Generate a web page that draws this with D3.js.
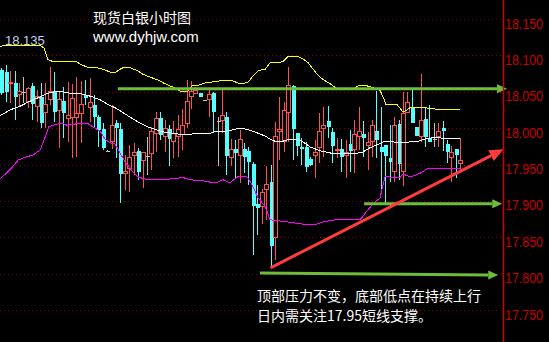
<!DOCTYPE html>
<html>
<head>
<meta charset="utf-8">
<script src="https://cdn.jsdelivr.net/npm/d3@7"></script>
<style>
    body {margin: 0; background: #000; overflow: hidden;}
</style>
</head>
<body>
<svg id="chart"></svg>
<script>
// hourly silver candles (price units)
var opens = [18.080, 18.077, 18.061, 18.062, 18.046, 18.050, 18.036, 18.058, 18.030, 18.043,
    18.021, 18.040, 18.051, 18.024, 18.037, 18.013, 18.015, 18.015, 18.020, 18.046,
    18.029, 18.032, 18.015, 17.999, 17.969, 17.982, 18.007, 17.999, 17.938, 17.945,
    17.962, 17.969, 17.955, 17.962, 17.965, 17.993, 18.014, 17.988, 17.999, 17.982,
    17.988, 17.991, 18.007, 18.043, 18.048, 18.048, 18.039, 18.040, 18.048, 18.010,
    18.010, 18.015, 17.959, 17.971, 17.963, 17.971, 17.969, 17.951, 17.896, 17.892,
    17.916, 17.926, 17.850, 17.995, 17.982, 18.021, 18.058, 17.993, 17.974, 17.974,
    17.958, 17.962, 17.974, 18.000, 18.010, 17.995, 17.969, 17.971, 17.963, 17.978,
    17.971, 17.988, 17.992, 17.976, 17.982, 17.996, 17.974, 17.977, 17.959, 17.941,
    18.006, 17.940, 18.021, 18.029, 18.002, 17.988, 18.013, 17.987, 17.985, 17.988,
    18.000, 17.978, 17.960, 17.971, 17.952];
var highs = [18.083, 18.087, 18.079, 18.079, 18.062, 18.070, 18.057, 18.062, 18.052, 18.062,
    18.062, 18.084, 18.077, 18.050, 18.057, 18.063, 18.061, 18.070, 18.065, 18.066,
    18.069, 18.046, 18.018, 18.007, 17.970, 18.032, 18.011, 18.007, 17.963, 17.977,
    17.980, 17.973, 17.967, 17.988, 18.002, 18.022, 18.022, 18.011, 18.004, 18.010,
    18.018, 18.026, 18.066, 18.065, 18.057, 18.048, 18.039, 18.052, 18.050, 18.015,
    18.052, 18.022, 17.985, 17.984, 17.998, 17.980, 17.974, 17.954, 17.922, 17.916,
    17.948, 17.949, 18.009, 18.043, 18.036, 18.084, 18.059, 17.993, 17.987, 17.981,
    17.960, 17.984, 18.021, 18.029, 18.030, 18.000, 17.987, 17.985, 17.984, 17.998,
    18.011, 18.029, 18.010, 17.995, 18.011, 18.051, 18.029, 17.977, 18.004, 18.015,
    18.011, 18.050, 18.050, 18.052, 18.002, 18.074, 18.029, 18.032, 18.007, 18.007,
    18.010, 17.984, 17.976, 17.971, 17.987];
var lows = [18.046, 18.036, 18.035, 18.011, 18.029, 18.035, 18.028, 18.011, 18.009, 18.000,
    18.000, 18.032, 18.009, 17.973, 17.987, 17.981, 17.959, 17.960, 17.980, 18.032,
    18.009, 18.002, 17.974, 17.970, 17.968, 17.971, 17.959, 17.897, 17.915, 17.912,
    17.936, 17.929, 17.918, 17.936, 17.943, 17.967, 17.984, 17.967, 17.948, 17.959,
    17.960, 17.970, 18.000, 18.026, 18.047, 18.043, 18.039, 18.015, 17.995, 17.948,
    17.993, 17.936, 17.948, 17.932, 17.925, 17.938, 17.922, 17.826, 17.853, 17.868,
    17.874, 17.808, 17.819, 17.956, 17.967, 17.981, 17.956, 17.962, 17.949, 17.940,
    17.948, 17.932, 17.952, 17.960, 17.987, 17.952, 17.959, 17.940, 17.932, 17.940,
    17.938, 17.970, 17.960, 17.943, 17.960, 17.959, 17.915, 17.896, 17.926, 17.926,
    17.929, 17.921, 18.021, 18.007, 17.989, 17.981, 17.974, 17.981, 17.974, 17.974,
    17.969, 17.952, 17.926, 17.932, 17.943];
var closes = [18.048, 18.050, 18.063, 18.043, 18.050, 18.050, 18.054, 18.033, 18.044, 18.007,
    18.032, 18.051, 18.022, 18.040, 18.021, 18.018, 18.041, 18.020, 18.032, 18.041,
    18.035, 18.015, 17.998, 17.973, 17.969, 18.003, 18.000, 17.937, 17.940, 17.960,
    17.967, 17.940, 17.966, 17.962, 17.996, 18.013, 17.991, 18.000, 17.985, 17.993,
    17.998, 18.003, 18.036, 18.051, 18.052, 18.043, 18.039, 18.046, 18.022, 18.010,
    18.017, 17.962, 17.971, 17.966, 17.984, 17.960, 17.954, 17.893, 17.890, 17.911,
    17.923, 17.838, 17.989, 17.998, 18.024, 18.059, 17.999, 17.976, 17.971, 17.947,
    17.949, 17.967, 17.996, 18.003, 18.002, 17.976, 17.971, 17.960, 17.966, 17.969,
    17.991, 17.995, 17.987, 17.980, 18.003, 17.984, 17.967, 17.962, 17.954, 18.004,
    17.951, 18.020, 18.035, 18.007, 17.989, 18.010, 17.988, 17.981, 17.985, 17.995,
    17.996, 17.967, 17.966, 17.963, 17.956];

// bollinger bands as [candle index, price] vertices
var upperBand = [[-0.3, 18.112], [0.8, 18.114], [8.8, 18.114], [9.7, 18.110], [10.6, 18.094],
    [11.5, 18.092], [17.2, 18.091], [17.8, 18.088], [19.4, 18.084], [21.7, 18.083], [23.5, 18.080],
    [24.6, 18.077], [25.8, 18.076], [26.9, 18.081], [27.6, 18.083], [29.2, 18.083], [30.8, 18.079],
    [32.1, 18.074], [34.2, 18.069], [35.5, 18.066], [37.1, 18.061], [39.4, 18.055], [40.5, 18.051],
    [42.3, 18.051], [43.2, 18.058], [44.6, 18.059], [46.2, 18.062], [49.6, 18.065], [52.5, 18.065],
    [53.6, 18.062], [55.2, 18.062], [55.9, 18.063], [56.8, 18.070], [58.2, 18.079], [59.8, 18.081],
    [60.9, 18.090], [63.8, 18.091], [65.0, 18.099], [67.0, 18.099], [68.4, 18.095], [69.5, 18.090],
    [70.4, 18.083], [71.3, 18.076], [72.2, 18.070], [73.4, 18.065], [74.5, 18.061], [75.8, 18.055],
    [80.1, 18.055], [80.8, 18.058], [82.9, 18.058], [84.5, 18.055], [85.8, 18.052], [86.5, 18.043],
    [87.2, 18.032], [89.7, 18.032], [90.3, 18.028], [91.0, 18.022], [91.7, 18.024], [92.6, 18.028],
    [94.9, 18.029], [96.0, 18.028], [98.7, 18.026], [104, 18.026]];
var middleBand = [[-0.3, 18.017], [2.0, 18.025], [4.2, 18.030], [6.5, 18.037], [8.8, 18.043],
    [10.6, 18.048], [12.2, 18.050], [14.0, 18.050], [15.6, 18.048], [17.4, 18.048], [19.0, 18.046],
    [20.6, 18.043], [22.4, 18.039], [24.0, 18.033], [25.8, 18.028], [27.4, 18.022], [29.2, 18.015],
    [31.4, 18.007], [33.0, 18.002], [34.4, 17.999], [36.6, 17.995], [39.8, 17.992], [42.3, 17.991],
    [44.4, 17.993], [47.3, 17.993], [48.9, 17.996], [51.1, 17.996], [53.4, 17.999], [55.2, 17.999],
    [56.8, 17.996], [58.2, 17.993], [59.8, 17.989], [60.9, 17.985], [62.0, 17.982], [63.8, 17.982],
    [65.4, 17.985], [67.0, 17.985], [68.4, 17.981], [70.0, 17.974], [72.2, 17.969], [75.2, 17.965],
    [80.1, 17.965], [81.9, 17.967], [83.5, 17.973], [85.1, 17.977], [86.9, 17.982], [88.8, 17.981],
    [91.0, 17.980], [92.6, 17.981], [94.4, 17.982], [96.0, 17.985], [97.8, 17.987], [104, 17.985]];
var lowerBand = [[-0.3, 17.930], [2.0, 17.943], [3.8, 17.956], [5.4, 17.960], [7.2, 17.963],
    [8.8, 17.970], [9.9, 17.987], [10.8, 18.002], [11.7, 18.004], [13.8, 18.007], [14.9, 18.004],
    [17.2, 18.006], [19.7, 18.006], [21.2, 18.000], [22.4, 17.996], [23.5, 17.985], [24.6, 17.980],
    [25.8, 17.978], [26.9, 17.966], [28.0, 17.954], [29.8, 17.940], [31.0, 17.933], [33.0, 17.929],
    [36.6, 17.929], [41.2, 17.932], [42.8, 17.929], [46.6, 17.927], [47.7, 17.925], [49.1, 17.926],
    [50.2, 17.929], [51.8, 17.925], [53.6, 17.933], [55.7, 17.933], [56.8, 17.922], [58.2, 17.904],
    [59.8, 17.892], [60.9, 17.874], [65.0, 17.871], [68.4, 17.868], [71.5, 17.868], [72.9, 17.871],
    [75.6, 17.874], [81.3, 17.874], [82.6, 17.884], [84.2, 17.896], [85.8, 17.904], [86.5, 17.922],
    [87.0, 17.934], [88.8, 17.932], [90.3, 17.932], [91.0, 17.937], [92.2, 17.934], [93.3, 17.934],
    [94.9, 17.938], [96.5, 17.944], [104, 17.944]];

var priceTicks = [18.15, 18.10, 18.05, 18.00, 17.95, 17.90, 17.85, 17.80, 17.75];

// hand drawn support / resistance lines: [start, arrow tip] as [candle index, price]
var greenLines = [
    [[26.4, 18.054], [114.6, 18.054]],
    [[82.2, 17.896], [113.5, 17.896]],
    [[58.6, 17.801], [112.6, 17.798]]
];
var trendLine = [[61.0, 17.808], [113.8, 17.971]];

var titleText = "现货白银小时图";
var siteText = "www.dyhjw.com";
var upperLabel = "18.135";
var noteLines = ["顶部压力不变，底部低点在持续上行", "日内需关注17.95短线支撑。"];

var width = 549, height = 342, axisX = 503;
var cjkFont = "'Noto Sans CJK SC', sans-serif";
var latinFont = "'Liberation Sans', Arial, sans-serif";

var svg = d3.select("#chart")
    .attr("width", width)
    .attr("height", height)
    .style("background", "#000");

var x = d3.scaleLinear().domain([0, closes.length - 1]).range([1.3, 460.3]);
var y = d3.scaleLinear().domain([17.75, 18.15]).range([310, 19]);

// dotted grid
svg.append("g")
    .selectAll("line")
    .data(priceTicks)
    .join("line")
    .attr("x1", 0)
    .attr("x2", axisX)
    .attr("y1", function (d) { return Math.round(y(d)) + 0.5; })
    .attr("y2", function (d) { return Math.round(y(d)) + 0.5; })
    .attr("stroke", "#8c0000")
    .attr("stroke-dasharray", "1,3");

// candles
var candleG = svg.append("g").attr("shape-rendering", "crispEdges");
d3.range(closes.length).forEach(function (i) {
    var px = Math.round(x(i));
    var o = opens[i], c = closes[i], top = y(Math.max(o, c)), bot = y(Math.min(o, c));
    var color;
    if (c > o) color = "#ff5050";
    else if (c < o) color = "#54ffff";
    else color = "#c0c0c0";

    if (c > o) {
        candleG.append("line").attr("x1", px + 0.5).attr("x2", px + 0.5)
            .attr("y1", y(highs[i])).attr("y2", top).attr("stroke", color);
        candleG.append("line").attr("x1", px + 0.5).attr("x2", px + 0.5)
            .attr("y1", bot).attr("y2", y(lows[i])).attr("stroke", color);
        candleG.append("rect")
            .attr("x", px - 1.5).attr("y", top)
            .attr("width", 4).attr("height", Math.max(1, bot - top))
            .attr("fill", "#000").attr("stroke", color);
    } else {
        candleG.append("line").attr("x1", px + 0.5).attr("x2", px + 0.5)
            .attr("y1", y(highs[i])).attr("y2", y(lows[i])).attr("stroke", color);
        if (c < o) {
            candleG.append("rect")
                .attr("x", px - 1.5).attr("y", top)
                .attr("width", 4).attr("height", Math.max(1, bot - top))
                .attr("fill", color);
        } else {
            candleG.append("line").attr("x1", px - 1.5).attr("x2", px + 2.5)
                .attr("y1", Math.round(top) + 0.5).attr("y2", Math.round(top) + 0.5)
                .attr("stroke", color);
        }
    }
});

// bands
var bandLine = d3.line()
    .x(function (d) { return x(d[0]); })
    .y(function (d) { return y(d[1]); });

[[upperBand, "#ffff00"], [middleBand, "#ffffff"], [lowerBand, "#ff00ff"]].forEach(function (b) {
    svg.append("path")
        .datum(b[0])
        .attr("fill", "none")
        .attr("stroke", b[1])
        .attr("stroke-width", 1)
        .attr("shape-rendering", "crispEdges")
        .attr("d", bandLine);
});

function arrowLine(pts, color, lineW, headLen, headW) {
    var p0 = [x(pts[0][0]), y(pts[0][1])], p1 = [x(pts[1][0]), y(pts[1][1])];
    var dx = p1[0] - p0[0], dy = p1[1] - p0[1], len = Math.hypot(dx, dy);
    var ux = dx / len, uy = dy / len;
    var bx = p1[0] - ux * headLen, by = p1[1] - uy * headLen;
    svg.append("line")
        .attr("x1", p0[0]).attr("y1", p0[1])
        .attr("x2", bx).attr("y2", by)
        .attr("stroke", color)
        .attr("stroke-width", lineW);
    svg.append("path")
        .attr("d", "M" + p1 + "L" + [bx - uy * headW, by + ux * headW] + "L" + [bx + uy * headW, by - ux * headW] + "Z")
        .attr("fill", color);
}

greenLines.forEach(function (l) { arrowLine(l, "#6fbb3a", 3, 10, 4.5); });
arrowLine(trendLine, "#ff3c3c", 3, 14, 6);

// axis on the right
svg.append("line")
    .attr("x1", axisX + 0.5).attr("x2", axisX + 0.5)
    .attr("y1", 0).attr("y2", height)
    .attr("stroke", "#d00000")
    .attr("stroke-width", 1.5);

var axisG = svg.append("g")
    .attr("transform", "translate(" + axisX + ",0)")
    .call(d3.axisRight(y).tickValues(priceTicks).tickSize(0).tickPadding(2).tickFormat(d3.format(".3f")));
axisG.select(".domain").remove();
axisG.selectAll("text")
    .attr("dy", 9)
    .attr("fill", "#c80000")
    .attr("font-size", 14)
    .attr("font-family", latinFont)
    .attr("textLength", 38)
    .attr("lengthAdjust", "spacingAndGlyphs");

// texts
svg.append("text")
    .attr("x", 93).attr("y", 22.5)
    .attr("fill", "#fff")
    .attr("font-family", cjkFont)
    .attr("font-size", 14)
    .text(titleText);

svg.append("text")
    .attr("x", 93).attr("y", 42)
    .attr("fill", "#fff")
    .attr("font-family", latinFont)
    .attr("font-size", 15)
    .text(siteText);

svg.append("text")
    .attr("x", 5).attr("y", 45)
    .attr("fill", "#c8d2f0")
    .attr("font-family", latinFont)
    .attr("font-size", 13)
    .text(upperLabel);

svg.append("g")
    .selectAll("text")
    .data(noteLines)
    .join("text")
    .attr("x", 257)
    .attr("y", function (d, i) { return 300.5 + i * 20; })
    .attr("fill", "#fff")
    .attr("font-family", cjkFont)
    .attr("font-size", 14)
    .text(function (d) { return d; });
</script>
</body>
</html>
